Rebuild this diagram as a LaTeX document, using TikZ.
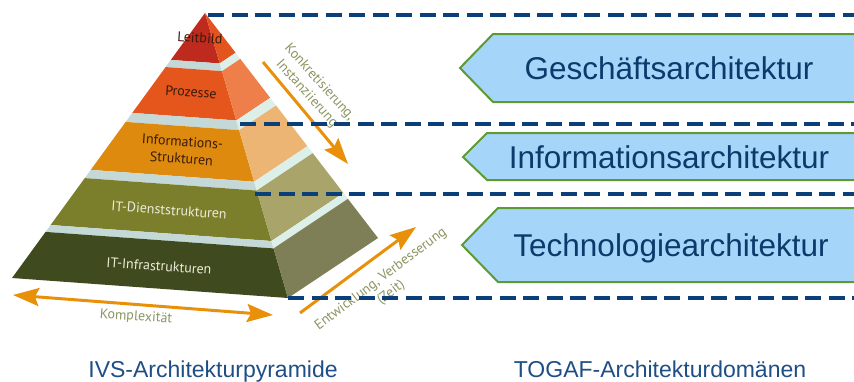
\documentclass[tikz,border=0pt]{standalone}
\usepackage{fontspec}
\setmainfont{Liberation Sans}
\newfontfamily\pyrfont{PT Sans}
\usetikzlibrary{calc,arrows.meta}
\definecolor{dashblue}{HTML}{0B3F7A}
\definecolor{captblue}{HTML}{1F4E85}
\definecolor{boxtextc}{HTML}{0B3A6B}
\definecolor{boxfill}{HTML}{A6D5FA}
\definecolor{boxline}{HTML}{5E9A32}
\definecolor{arrorange}{HTML}{E8900A}
\definecolor{olivetext}{HTML}{8A9560}
\definecolor{leitF}{HTML}{BE2B1E}
\definecolor{leitS}{HTML}{E4541F}
\definecolor{prozF}{HTML}{E5561D}
\definecolor{prozS}{HTML}{EE7E4A}
\definecolor{infoF}{HTML}{DE8A0E}
\definecolor{infoS}{HTML}{EDB574}
\definecolor{itdF}{HTML}{7B7F2C}
\definecolor{itdS}{HTML}{A8A46A}
\definecolor{itiF}{HTML}{3F4B1E}
\definecolor{itiS}{HTML}{7E7F56}
\definecolor{gapF}{HTML}{C5D8D8}
\definecolor{gapS}{HTML}{DCEFE8}
\definecolor{darklab}{HTML}{3A1A0A}
\definecolor{lightlab}{HTML}{ECECD8}
\newcommand\pyrband[4]{%
  \fill[#3] ($(A)!#1!(L)$) -- ($(A)!#1!(R)$) -- ($(A)!#2!(R)$) -- ($(A)!#2!(L)$) -- cycle;
  \fill[#4] ($(A)!#1!(R)$) -- ($(A)!#1!(B)$) -- ($(A)!#2!(B)$) -- ($(A)!#2!(R)$) -- cycle;}
\begin{document}
\begin{tikzpicture}[x=1pt,y=-1pt,
  pyrlabel/.style={font=\pyrfont\fontsize{14}{17}\selectfont, rotate=-4, align=center, inner sep=0pt},
  sidelabel/.style={font=\pyrfont\fontsize{14}{17}\selectfont, text=olivetext, align=center, inner sep=0pt},
  orarrow/.style={draw=arrorange, line width=3pt, -{Stealth[length=26pt,width=18pt,inset=4pt]}},
  archbox/.style={fill=boxfill, draw=boxline, line width=2pt, line join=miter},
  boxtext/.style={font=\fontsize{31.5}{36}\selectfont, text=boxtextc, anchor=base, inner sep=0pt},
  caption/.style={font=\fontsize{23}{26}\selectfont, text=captblue, anchor=base, inner sep=0pt},
  dashline/.style={draw=dashblue, line width=4.5pt, dash pattern=on 16pt off 7.5pt}]
\useasboundingbox (0,0) rectangle (854,381);
\coordinate (A) at (205,13);
\coordinate (L) at (12,278);
\coordinate (R) at (288,298);
\coordinate (B) at (378,238);
% pyramid bands
\pyrband{0}{0.177}{leitF}{leitS}
\pyrband{0.177}{0.204}{gapF}{gapS}
\pyrband{0.204}{0.377}{prozF}{prozS}
\pyrband{0.377}{0.411}{gapF}{gapS}
\pyrband{0.411}{0.592}{infoF}{infoS}
\pyrband{0.592}{0.623}{gapF}{gapS}
\pyrband{0.623}{0.800}{itdF}{itdS}
\pyrband{0.800}{0.826}{gapF}{gapS}
\pyrband{0.826}{1}{itiF}{itiS}
% pyramid labels
\node[pyrlabel, text=darklab] (leit) at (200,38) {Leitbild};
\node[pyrlabel, text=darklab] (proz) at (191,92) {Prozesse};
\node[pyrlabel, text=darklab] (info) at (182,150) {Informations-\\Strukturen};
\node[pyrlabel, text=lightlab] (itd) at (169,210) {IT-Dienststrukturen};
\node[pyrlabel, text=lightlab] (iti) at (159,266) {IT-Infrastrukturen};
% arrows
\coordinate (c1) at (13,295);
\coordinate (c2) at (273,315);
\draw[orarrow, {Stealth[length=26pt,width=18pt,inset=4pt]}-{Stealth[length=26pt,width=18pt,inset=4pt]}] (c1) -- (c2);
\node[sidelabel, rotate=-4] (kompl) at (136,317) {Komplexität};
\coordinate (k1) at (263,62);
\coordinate (k2) at (348,164);
\draw[orarrow] (k1) -- (k2);
\node[sidelabel, rotate=-48] (konk) at (313,88) {Konkretisierung,\\Instanziierung};
\coordinate (e1) at (300,313);
\coordinate (e2) at (416,227);
\draw[orarrow] (e1) -- (e2);
\node[sidelabel, rotate=37] (entw) at (386,286) {Entwicklung, Verbesserung\\(Zeit)};
% TOGAF boxes
\filldraw[archbox] (862,34) -- (493,34) -- (460,68) -- (493,102) -- (862,102);
\node[boxtext] (gesch) at (669,79) {Geschäftsarchitektur};
\filldraw[archbox] (862,133) -- (487,133) -- (463,157) -- (487,180) -- (862,180);
\node[boxtext] (infa) at (669,168) {Informationsarchitektur};
\filldraw[archbox] (862,208) -- (498,208) -- (462,245) -- (498,282) -- (862,282);
\node[boxtext] (tech) at (671,256) {Technologiearchitektur};
% dashed lines
\coordinate (d1s) at (208,15);  \coordinate (d1e) at (856,15);
\coordinate (d2s) at (240,124); \coordinate (d2e) at (856,124);
\coordinate (d3s) at (255,194); \coordinate (d3e) at (856,194);
\coordinate (d4s) at (288,298); \coordinate (d4e) at (856,298);
\draw[dashline] (d1s) -- (d1e);
\draw[dashline] (d2s) -- (d2e);
\draw[dashline] (d3s) -- (d3e);
\draw[dashline] (d4s) -- (d4e);
% captions
\node[caption] (ivs) at (213,377) {IVS-Architekturpyramide};
\node[caption] (togaf) at (660,377) {TOGAF-Architekturdomänen};
\end{tikzpicture}
\end{document}
